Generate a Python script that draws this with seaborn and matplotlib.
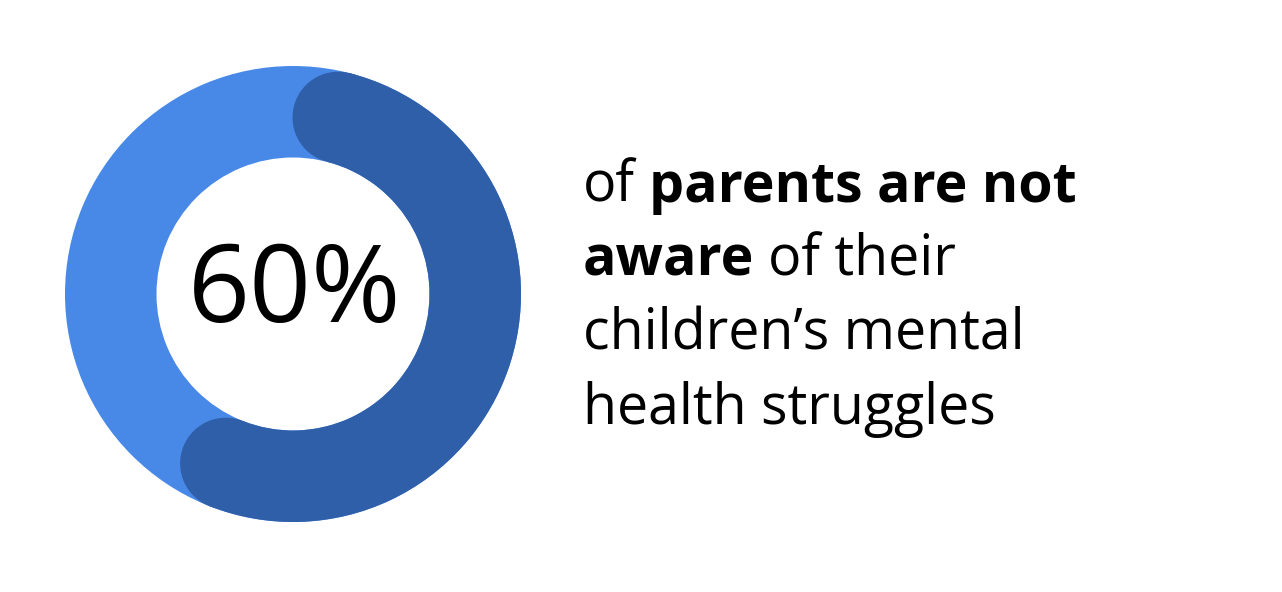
import matplotlib
matplotlib.use("Agg")
import matplotlib.pyplot as plt
from matplotlib.patches import Wedge, Circle
import seaborn as sns
import numpy as np

#### Data
share = 60                      # percent of parents not aware
label = "60%"
lines = [
    [("of ", "normal"), ("parents are not", "bold")],
    [("aware", "bold"), (" of their", "normal")],
    [("children\u2019s mental", "normal")],
    [("health struggles", "normal")],
]

#### Style
sns.set_theme(style="white")
plt.rcParams['font.family'] = ['Open Sans', 'DejaVu Sans']
light_blue = "#4889E8"
dark_blue = "#2F5FA8"

W, H = 1282, 592
fig = plt.figure(figsize=(W / 100, H / 100), dpi=100)
ax = fig.add_axes([0, 0, 1, 1])
ax.set_xlim(0, W)
ax.set_ylim(H, 0)
ax.set_aspect("equal")
ax.axis("off")

#### Donut
cx, cy = 293, 294
r_out, width = 228, 91.5
r_mid = r_out - width / 2

ax.add_patch(Wedge((cx, cy), r_out, 0, 360, width=width, color=light_blue, lw=0))

# arc runs clockwise from 12 o'clock; round caps sit inside the arc
span = share / 100 * 360
cap = np.degrees((width / 2) / r_mid)
a1, a2 = cap - 90, span - cap - 90
ax.add_patch(Wedge((cx, cy), r_out, a1, a2, width=width, color=dark_blue, lw=0))
for a in (a1, a2):
    t = np.radians(a)
    ax.add_patch(Circle((cx + r_mid * np.cos(t), cy + r_mid * np.sin(t)),
                        width / 2, color=dark_blue, lw=0))

ax.text(cx + 2, 294, label, ha="center", va="center", fontsize=78,
        fontweight="normal", color="black")

#### Caption with mixed weights
renderer = fig.canvas.get_renderer()
x0 = 583
baselines = [202, 276, 350, 424]
for parts, y in zip(lines, baselines):
    x = x0
    for txt, wt in parts:
        lead = len(txt) - len(txt.lstrip(" "))
        trail = len(txt) - len(txt.rstrip(" "))
        x += lead * 14
        t = ax.text(x, y, txt.strip(" "), ha="left", va="baseline",
                    fontsize=40, fontweight=wt, color="black")
        bb = t.get_window_extent(renderer)
        x = bb.x1 + trail * 14

fig.savefig("out.png", dpi=100)
